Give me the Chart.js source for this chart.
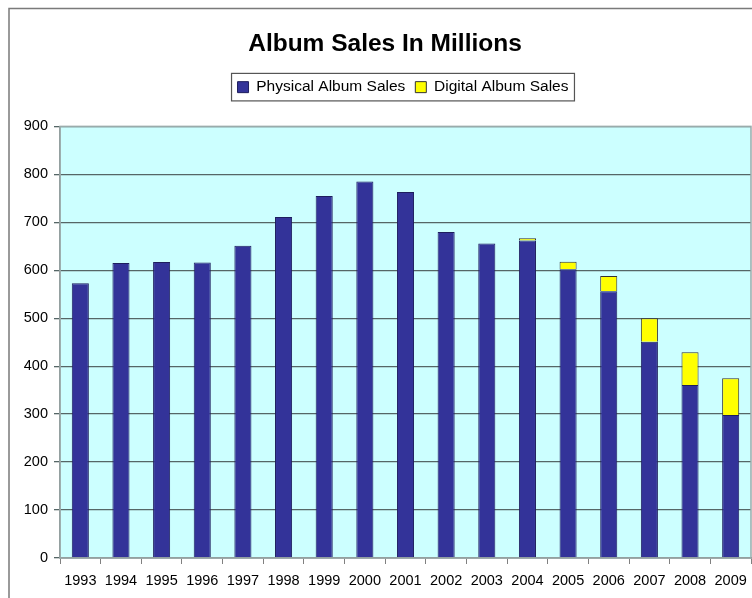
<!DOCTYPE html>
<html>
<head>
<meta charset="utf-8">
<script src="https://cdn.jsdelivr.net/npm/chart.js@4/dist/chart.umd.min.js"></script>
<style>
  html, body { margin: 0; padding: 0; background: #fff; }
  #wrap { width: 752px; height: 598px; position: relative; }
</style>
</head>
<body>
<div id="wrap"><canvas id="salesChart" width="752" height="598"></canvas></div>
<script>
// Album sales (millions).
const years = ["1993", "1994", "1995", "1996", "1997", "1998", "1999", "2000", "2001",
  "2002", "2003", "2004", "2005", "2006", "2007", "2008", "2009"];
const physical = [573, 615, 617, 616, 651, 711, 755, 785, 763, 680, 656, 662, 602, 556, 451, 361, 298];
const digital = [null, null, null, null, null, null, null, null, null, null, null, 5, 16, 32, 49, 68, 77];
const yTicks = [0, 100, 200, 300, 400, 500, 600, 700, 800, 900];

const FONT = "'Liberation Sans', Arial, sans-serif";
Chart.defaults.font.family = FONT;
Chart.defaults.color = "#000";

// light cyan plot area, grey outer frame, boxed legend
const decor = {
  id: "decor",
  afterLayout(chart) {
    // legend and title sit a little right of centre in the original
    chart.legend.left += 23;
    chart.legend.right += 23;
    chart.titleBlock.left += 5;
    chart.titleBlock.right += 5;
  },
  beforeDraw(chart) {
    const { ctx, chartArea: a } = chart;
    ctx.save();
    ctx.fillStyle = "#ccffff";
    ctx.fillRect(a.left, a.top, a.right - a.left, a.bottom - a.top);
    ctx.strokeStyle = "#7a7a7a";
    ctx.lineWidth = 1.5;
    ctx.beginPath();
    ctx.moveTo(9, 598);
    ctx.lineTo(9, 8.5);
    ctx.lineTo(752, 8.5);
    ctx.stroke();
    ctx.restore();
  },
  afterDraw(chart) {
    const { ctx, chartArea: a } = chart;
    const hb = chart.legend.legendHitBoxes;
    ctx.save();
    ctx.strokeStyle = "#9aabab";
    ctx.lineWidth = 1.5;
    ctx.strokeRect(a.left, a.top, a.right - a.left, a.bottom - a.top);
    if (hb && hb.length) {
      const l = Math.min(...hb.map((h) => h.left)) - 6;
      const r = Math.max(...hb.map((h) => h.left + h.width)) + 6;
      const t = hb[0].top - 6;
      const b = hb[0].top + hb[0].height + 6;
      ctx.strokeStyle = "#555";
      ctx.lineWidth = 1.2;
      ctx.strokeRect(l, t, r - l, b - t);
    }
    ctx.restore();
  },
};

new Chart(document.getElementById("salesChart"), {
  type: "bar",
  data: {
    labels: years,
    datasets: [
      { label: "Physical Album Sales", data: physical, backgroundColor: "#333399", borderColor: "#1e1e5e", borderWidth: 1, barPercentage: 0.42, categoryPercentage: 1 },
      { label: "Digital Album Sales", data: digital, backgroundColor: "#ffff00", borderColor: "#333", borderWidth: 1, barPercentage: 0.42, categoryPercentage: 1 },
    ],
  },
  options: {
    responsive: false, animation: false,
    layout: { padding: { top: 8, left: 9, right: 1, bottom: 0 } },
    plugins: {
      title: { display: true, text: "Album Sales In Millions", font: { size: 24.5, weight: "bold" }, color: "#000", padding: { top: 22, bottom: 10 } },
      // empty subtitle below the legend, only as a spacer
      subtitle: { display: true, text: "", weight: 500, font: { size: 10 }, padding: { top: 4.5, bottom: 5 } },
      legend: {
        labels: { font: { size: 15.5 }, color: "#000", boxWidth: 11, boxHeight: 11, padding: 10 },
      },
      tooltip: { enabled: false },
    },
    scales: {
      x: {
        stacked: true,
        grid: { drawOnChartArea: false, tickLength: 6, color: "#808080", offset: true },
        border: { color: "#808080", width: 1.5 },
        ticks: { font: { size: 14.5 }, color: "#000", padding: 8, maxRotation: 0, autoSkip: false },
        afterFit: (s) => { s.height = 40; s.paddingLeft = 0; s.paddingRight = 0; },
      },
      y: {
        stacked: true, min: 0, max: 900,
        afterBuildTicks: (s) => { s.ticks = yTicks.map((v) => ({ value: v })); },
        grid: { color: "#556666", lineWidth: 1.3, tickLength: 6 },
        border: { color: "#808080", width: 1.5 },
        ticks: { font: { size: 14.5 }, color: "#000", padding: 6 },
        afterFit: (s) => { s.width = 51; },
      },
    },
  },
  plugins: [decor],
});
</script>
</body>
</html>
